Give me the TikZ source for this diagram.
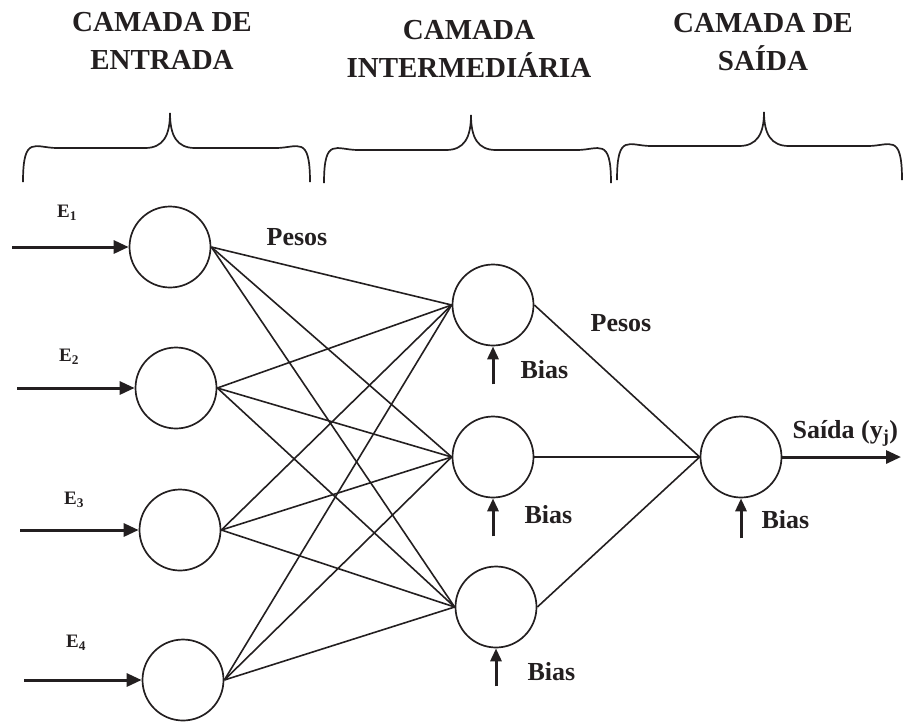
\documentclass[tikz,border=0pt]{standalone}
\usepackage{fontspec}
\setmainfont{Liberation Serif}
\usetikzlibrary{arrows.meta,positioning}
\definecolor{ink}{HTML}{231F20}

\begin{document}
\begin{tikzpicture}[
    x=1pt, y=-1pt,
    font=\bfseries,
    every node/.style={text=ink},
    neuron/.style={draw=ink, circle, line width=1.7pt, minimum size=81pt, inner sep=0pt},
    head/.style={align=center, font=\bfseries\fontsize{29}{38}\selectfont},
    lbl/.style={font=\bfseries\fontsize{26}{30}\selectfont},
    inlbl/.style={font=\bfseries\fontsize{19}{22}\selectfont},
    wire/.style={draw=ink, line width=1.6pt},
    flow/.style={-{Triangle[length=15pt,width=13pt]}, draw=ink, line width=3pt},
    biasflow/.style={-{Triangle[length=13pt,width=11pt]}, draw=ink, line width=3pt},
    brace/.style={draw=ink, line width=1.7pt}
  ]
  \useasboundingbox (0,0) rectangle (904,721);

  % Layer titles
  \node[head] (t1) at (162,41) {CAMADA DE\\ENTRADA};
  \node[head] (t2) at (469,49) {CAMADA\\INTERMEDIÁRIA};
  \node[head] (t3) at (763,42) {CAMADA DE\\SAÍDA};

  % Braces under the titles
  \foreach \l/\c/\r/\t/\m/\b in {23/170/310/113/148/182, 324/471/611/115/150/183, 617/764/902/112/146/180}
    \draw[brace] (\l,\b) .. controls (\l,\m-14) and (\l+12,\m) .. (\l+34,\m)
      -- (\c-25,\m) .. controls (\c-7,\m) and (\c,\m-12) .. (\c,\t)
      .. controls (\c,\m-12) and (\c+7,\m) .. (\c+25,\m)
      -- (\r-34,\m) .. controls (\r-12,\m) and (\r,\m-14) .. (\r,\b);

  % Input layer
  \node[neuron] (e1) at (170,247) {};
  \node[neuron] (e2) at (176,388) {};
  \node[neuron] (e3) at (180,530) {};
  \node[neuron] (e4) at (183,680) {};
  \node[inlbl] (l1) at (67,213) {E\textsubscript{1}};
  \node[inlbl] (l2) at (69,357) {E\textsubscript{2}};
  \node[inlbl] (l3) at (74,500) {E\textsubscript{3}};
  \node[inlbl] (l4) at (76,643) {E\textsubscript{4}};
  \coordinate (s1) at (12,247);
  \coordinate (s2) at (17,388);
  \coordinate (s3) at (20,530);
  \coordinate (s4) at (24,680);

  % Hidden layer
  \node[neuron] (h1) at (493,305) {};
  \node[neuron] (h2) at (493,457) {};
  \node[neuron] (h3) at (496,607) {};

  % Output layer
  \node[neuron] (o) at (741,457) {};
  \coordinate (yout) at (901,457);
  \node[lbl, anchor=west] (ylbl) at (789,433) {Saída (y\textsubscript{j})};

  % Weights
  \node[lbl] (p1) at (297,237) {Pesos};
  \node[lbl] (p2) at (621,323) {Pesos};

  % Bias inputs
  \coordinate[below=38pt of h1] (b1);
  \coordinate[below=38pt of h2] (b2);
  \coordinate[below=38pt of h3] (b3);
  \coordinate[below=40pt of o] (bo);
  \node[lbl, anchor=west] (bl1) at (517,370) {Bias};
  \node[lbl, anchor=west] (bl2) at (521,515) {Bias};
  \node[lbl, anchor=west] (bl3) at (524,672) {Bias};
  \node[lbl, anchor=west] (blo) at (758,520) {Bias};

  % Connections
  \foreach \i in {1,...,4}
    \foreach \j in {1,2,3}
      \draw[wire] (e\i.east) -- (h\j.west);
  \foreach \j in {1,2,3}
    \draw[wire] (h\j.east) -- (o.west);

  \foreach \i in {1,...,4}
    \draw[flow] (s\i) -- (e\i.west);
  \draw[flow] (o.east) -- (yout);

  \draw[biasflow] (b1) -- (h1.south);
  \draw[biasflow] (b2) -- (h2.south);
  \draw[biasflow] (b3) -- (h3.south);
  \draw[biasflow] (bo) -- (o.south);

\end{tikzpicture}
\end{document}
